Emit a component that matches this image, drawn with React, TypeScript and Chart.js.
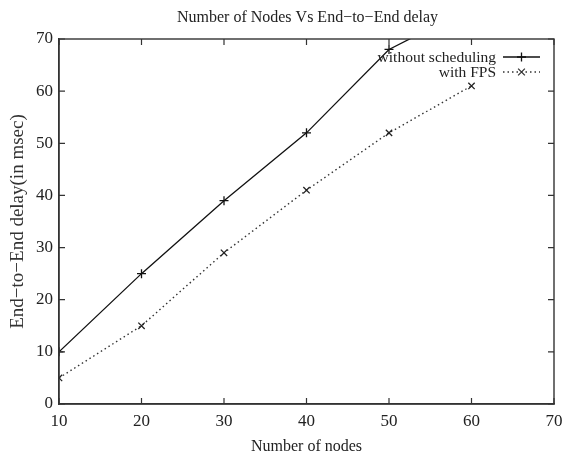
import React, { useEffect, useRef } from "react";
import { Chart, registerables } from "chart.js";

Chart.register(...registerables);

const nodes = [10, 20, 30, 40, 50, 60];
const withoutScheduling = [10, 25, 39, 52, 68, 76];
const withFPS = [5, 15, 29, 41, 52, 61];
const seriesLabels = ["without scheduling", "with FPS"];
const chartTitle = "Number of Nodes Vs End\u2212to\u2212End delay";
const xTitle = "Number of nodes";
const yTitle = "End\u2212to\u2212End delay(in msec)";

const FONT = "Liberation Serif, 'Times New Roman', serif";

const framePlugin = {
  id: "gnuframe",
  afterDraw(chart: any) {
    const { ctx, chartArea: a, scales } = chart;
    ctx.save();
    // frame
    ctx.strokeStyle = "#333";
    ctx.lineWidth = 1.4;
    ctx.strokeRect(a.left, a.top, a.right - a.left, a.bottom - a.top);
    // inward ticks
    const tl = 6;
    ctx.lineWidth = 1.2;
    ctx.beginPath();
    scales.x.ticks.forEach((t: any) => {
      const px = scales.x.getPixelForValue(t.value);
      ctx.moveTo(px, a.bottom);
      ctx.lineTo(px, a.bottom - tl);
      ctx.moveTo(px, a.top);
      ctx.lineTo(px, a.top + tl);
    });
    scales.y.ticks.forEach((t: any) => {
      const py = scales.y.getPixelForValue(t.value);
      ctx.moveTo(a.left, py);
      ctx.lineTo(a.left + tl, py);
      ctx.moveTo(a.right, py);
      ctx.lineTo(a.right - tl, py);
    });
    ctx.stroke();

    // title
    ctx.fillStyle = "#222";
    ctx.font = `16px ${FONT}`;
    ctx.textAlign = "center";
    ctx.textBaseline = "middle";
    ctx.fillText(chartTitle, (a.left + a.right) / 2 + 1, 18);

    // legend
    const textRight = a.right - 58;
    const sx0 = a.right - 51;
    const sx1 = a.right - 14;
    const rows = [a.top + 18, a.top + 33];
    ctx.font = `15.5px ${FONT}`;
    ctx.textAlign = "right";
    ctx.textBaseline = "middle";
    chart.data.datasets.forEach((ds: any, i: number) => {
      const y = rows[i];
      ctx.fillStyle = "#222";
      ctx.fillText(ds.label, textRight, y + 1);
      ctx.strokeStyle = ds.borderColor;
      ctx.lineWidth = ds.borderWidth;
      ctx.setLineDash(ds.borderDash || []);
      ctx.beginPath();
      ctx.moveTo(sx0, y);
      ctx.lineTo(sx1, y);
      ctx.stroke();
      ctx.setLineDash([]);
      const cx = (sx0 + sx1) / 2;
      const r = 4.5;
      ctx.beginPath();
      if (i === 0) {
        ctx.moveTo(cx - r, y);
        ctx.lineTo(cx + r, y);
        ctx.moveTo(cx, y - r);
        ctx.lineTo(cx, y + r);
      } else {
        ctx.moveTo(cx - r * 0.75, y - r * 0.75);
        ctx.lineTo(cx + r * 0.75, y + r * 0.75);
        ctx.moveTo(cx - r * 0.75, y + r * 0.75);
        ctx.lineTo(cx + r * 0.75, y - r * 0.75);
      }
      ctx.lineWidth = 1.3;
      ctx.stroke();
    });
    ctx.restore();
  },
};

export default function App() {
  const ref = useRef<HTMLCanvasElement>(null);
  useEffect(() => {
    document.body.style.margin = "0";
    const canvas = ref.current;
    if (!canvas) return;
    const chart = new Chart(canvas, {
      type: "line",
      data: {
        datasets: [
          {
            label: seriesLabels[0],
            data: nodes.map((n, i) => ({ x: n, y: withoutScheduling[i] })),
            borderColor: "#111",
            borderWidth: 1.3,
            pointStyle: "cross",
            pointRadius: 4.5,
            pointBorderWidth: 1.3,
            pointBorderColor: "#111",
            pointBackgroundColor: "#111",
            fill: false,
            tension: 0,
          },
          {
            label: seriesLabels[1],
            data: nodes.map((n, i) => ({ x: n, y: withFPS[i] })),
            borderColor: "#333",
            borderWidth: 1.4,
            borderDash: [1.5, 3],
            pointStyle: "crossRot",
            pointRadius: 4.5,
            pointBorderWidth: 1.3,
            pointBorderColor: "#222",
            pointBackgroundColor: "#222",
            fill: false,
            tension: 0,
          },
        ],
      },
      options: {
        animation: false,
        responsive: false,
        devicePixelRatio: 1,
        layout: { padding: { top: 39, right: 8, left: 0, bottom: 0 } },
        plugins: {
          legend: { display: false },
          title: { display: false },
          tooltip: { enabled: false },
        },
        scales: {
          x: {
            type: "linear",
            min: 10,
            max: 70,
            ticks: {
              stepSize: 10,
              color: "#222",
              font: { family: FONT, size: 17 },
              padding: 7,
              maxRotation: 0,
            },
            grid: { display: true, drawOnChartArea: false, drawTicks: false },
            border: { display: true, color: "#333", width: 1.4 },
            title: {
              display: true,
              text: xTitle,
              color: "#222",
              font: { family: FONT, size: 16 },
              padding: { top: 2, bottom: 0 },
            },
            afterFit: (s: any) => {
              s.height = 52;
              s.paddingLeft = 0;
              s.paddingRight = 0;
            },
          },
          y: {
            type: "linear",
            min: 0,
            max: 70,
            ticks: {
              stepSize: 10,
              color: "#222",
              font: { family: FONT, size: 17 },
              padding: 6,
            },
            grid: { display: true, drawOnChartArea: false, drawTicks: false },
            border: { display: true, color: "#333", width: 1.4 },
            title: {
              display: true,
              text: yTitle,
              color: "#333",
              font: { family: FONT, size: 19 },
              padding: { top: 7, bottom: 0 },
            },
            afterFit: (s: any) => {
              s.width = 59;
              s.paddingTop = 0;
              s.paddingBottom = 0;
            },
          },
        },
      },
      plugins: [framePlugin],
    });
    return () => chart.destroy();
  }, []);
  return (
    <div style={{ width: 562, height: 456, background: "#fff" }}>
      <canvas ref={ref} width={562} height={456} />
    </div>
  );
}
